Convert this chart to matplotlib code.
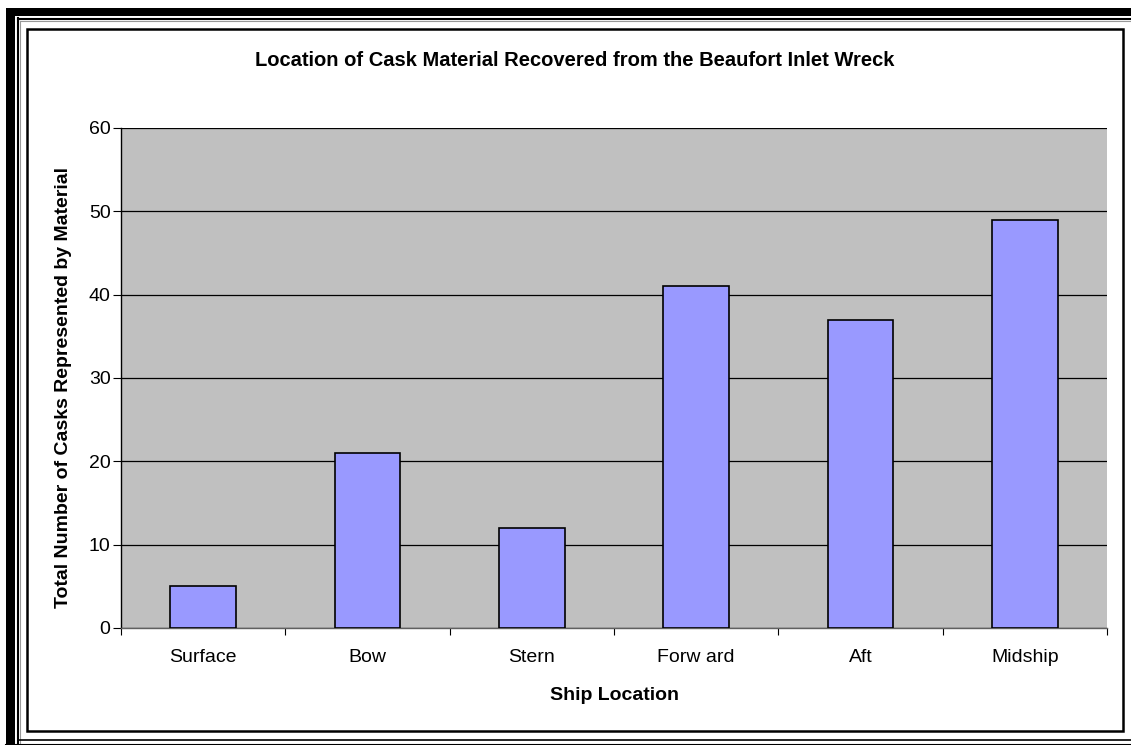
import matplotlib
matplotlib.use("Agg")
import matplotlib.pyplot as plt
from matplotlib.patches import Rectangle

plt.rcParams['font.family'] = ['Liberation Sans', 'DejaVu Sans']

# data
locations = ["Surface", "Bow", "Stern", "Forw ard", "Aft", "Midship"]
casks = [5, 21, 12, 41, 37, 49]
yticks = [0, 10, 20, 30, 40, 50, 60]

W, H = 1131, 745
fig = plt.figure(figsize=(W / 100, H / 100), dpi=100)

# frame drawn in pixel coordinates
bg = fig.add_axes([0, 0, 1, 1], zorder=0)
bg.set_xlim(0, W)
bg.set_ylim(H, 0)
bg.axis("off")
bg.fill_between([6, 15], 8, H, color="black", lw=0)
bg.fill_between([6, W], 8, 16, color="black", lw=0)
bg.plot([17.5, 17.5], [18, H], color="black", lw=1.5)
bg.plot([17.5, W], [18.5, 18.5], color="black", lw=1.5)
bg.plot([20, 20], [20.5, H], color="#999999", lw=0.8)
bg.plot([20, W], [20.5, 20.5], color="#999999", lw=0.8)
bg.plot([17.5, W], [740, 740], color="black", lw=1.2)
bg.plot([6, W], [744.5, 744.5], color="black", lw=1.5)
bg.add_patch(Rectangle((27, 28.5), 1096, 702.5, fill=False, ec="black", lw=1.8))

# chart
ax = fig.add_axes([121 / W, 1 - 628 / H, 986 / W, 500 / H], zorder=1)
ax.set_facecolor("#C0C0C0")
x = range(len(locations))
ax.bar(x, casks, width=0.4, color="#9999FF", edgecolor="black", linewidth=1.2, zorder=3)
ax.set_xlim(-0.5, len(locations) - 0.5)
ax.set_ylim(0, 60)
ax.set_yticks(yticks)
ax.yaxis.grid(True, color="black", lw=0.9, zorder=1)
ax.set_axisbelow(True)
ax.set_xticks(list(x))
ax.set_xticklabels(locations, fontsize=14)
ax.set_xticks([i - 0.5 for i in range(len(locations) + 1)], minor=True)
ax.tick_params(axis="x", which="major", length=0, pad=15)
ax.tick_params(axis="x", which="minor", length=5, width=0.8, direction="out")
ax.tick_params(axis="y", length=5.5, width=0.8, labelsize=14, pad=2)
for s in ["top", "right"]:
    ax.spines[s].set_visible(False)
ax.spines["left"].set_linewidth(1.0)
ax.spines["bottom"].set_linewidth(1.0)
ax.spines["bottom"].set_color("#606060")

ax.set_xlabel("Ship Location", fontsize=14, fontweight="bold", labelpad=15)
ax.set_ylabel("Total Number of Casks Represented by Material", fontsize=14,
              fontweight="bold")
ax.yaxis.set_label_coords(-0.0497, 0.48)
fig.text(575 / W, 1 - 60 / H, "Location of Cask Material Recovered from the Beaufort Inlet Wreck",
         ha="center", va="center", fontsize=14.5, fontweight="bold")

fig.savefig("out.png", dpi=100)
